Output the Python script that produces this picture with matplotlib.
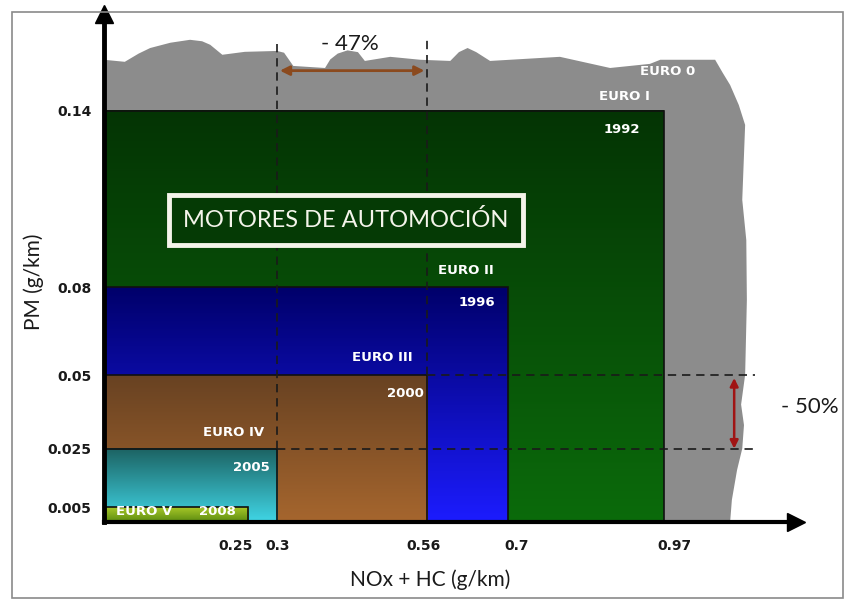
import numpy as np
import matplotlib
matplotlib.use("Agg")
import matplotlib.pyplot as plt
from matplotlib import font_manager
from matplotlib.patches import Rectangle, Polygon
from matplotlib.colors import to_rgb
from matplotlib.transforms import ScaledTranslation

plt.rcParams['font.family'] = ['Lato', 'DejaVu Sans']

installed = {f.name for f in font_manager.fontManager.ttflist}
if 'Liberation Sans Narrow' in installed:
    title_font, title_size = 'Liberation Sans Narrow', 20
else:
    title_font, title_size = 'Lato', 17

# Euro emission limits for passenger car engines (NOx + HC vs PM, g/km)
standards = ['EURO I', 'EURO II', 'EURO III', 'EURO IV', 'EURO V']
years = ['1992', '1996', '2000', '2005', '2008']
nox_hc = [0.97, 0.7, 0.56, 0.3, 0.25]
pm = [0.14, 0.08, 0.05, 0.025, 0.005]

x_ticks = [0.25, 0.3, 0.56, 0.7, 0.97]
y_ticks = [0.005, 0.025, 0.05, 0.08, 0.14]

# vertical gradients (top colour, bottom colour) for each block
gradients = [('#043404', '#0b6b0b'),
             ('#00006a', '#1c1cff'),
             ('#684222', '#a6662e'),
             ('#1c6262', '#40d6e6'),
             ('#a8c828', '#5a8a10')]

# outline of the "no limit" EURO 0 cloud behind everything
euro0_outline = [(0.0, 0.1574), (0.036, 0.1567), (0.060, 0.1595), (0.080, 0.1614),
                 (0.115, 0.1632), (0.149, 0.1642), (0.170, 0.1637), (0.184, 0.1625),
                 (0.205, 0.1591), (0.244, 0.1601), (0.300, 0.1604), (0.312, 0.1598),
                 (0.328, 0.1553), (0.383, 0.1546), (0.392, 0.1575), (0.405, 0.1595),
                 (0.422, 0.1606), (0.440, 0.1600), (0.452, 0.1570), (0.496, 0.1584),
                 (0.548, 0.1574), (0.600, 0.1570), (0.615, 0.1600), (0.630, 0.1614),
                 (0.645, 0.1600), (0.669, 0.1570), (0.790, 0.1584), (0.877, 0.1546),
                 (0.946, 0.1560), (0.964, 0.1574), (1.059, 0.1574), (1.072, 0.1530),
                 (1.085, 0.1488), (1.100, 0.1420), (1.111, 0.1352), (1.106, 0.1097),
                 (1.113, 0.0960), (1.114, 0.0756), (1.111, 0.0501), (1.104, 0.0400),
                 (1.109, 0.0330), (1.106, 0.0250), (1.097, 0.0177), (1.088, 0.0075),
                 (1.085, 0.0), (0.0, 0.0)]

fig = plt.figure(figsize=(8.45, 5.99), dpi=100)
ax = fig.add_axes([0.1231, 0.1286, 0.8195, 0.8481])
ax.set_xlim(0, 1.2)
ax.set_ylim(0, 0.173)

# thin grey frame round the whole figure
fig.patches.append(Rectangle((12 / 845, 1 / 599), 831 / 845, 586 / 599, transform=fig.transFigure,
                             fill=False, edgecolor='#8a8a8a', linewidth=1.2))

ax.add_patch(Polygon(euro0_outline, closed=True, facecolor='#8c8c8c', edgecolor='none', zorder=1))

for i, (w, h, (c_top, c_bot)) in enumerate(zip(nox_hc, pm, gradients)):
    t = np.linspace(0, 1, 256)[:, None, None]
    img = (1 - t) * np.array(to_rgb(c_bot)) + t * np.array(to_rgb(c_top))
    ax.imshow(img, extent=[0, w, 0, h], origin='lower', aspect='auto',
              interpolation='bilinear', zorder=2 + i)
    ax.add_patch(Rectangle((0, 0), w, h, fill=False, edgecolor='#101010',
                           linewidth=1.2, zorder=2 + i))

# dashed guide lines for the EURO III -> EURO IV step
dash = dict(color='#1a1a1a', linestyle=(0, (5, 3.5)), linewidth=1.2, zorder=8)
ax.plot([0.3, 0.3], [0.025, 0.163], **dash)
ax.plot([0.56, 0.56], [0.05, 0.165], **dash)
ax.plot([0.56, 1.128], [0.05, 0.05], clip_on=False, **dash)
ax.plot([0.3, 1.125], [0.025, 0.025], clip_on=False, **dash)

ax.annotate('', xy=(0.3, 0.1537), xytext=(0.56, 0.1537),
            arrowprops=dict(arrowstyle='<|-|>', color='#8b4a1e', lw=2, mutation_scale=14,
                            shrinkA=2, shrinkB=2), zorder=9)
ax.annotate('', xy=(1.092, 0.0245), xytext=(1.092, 0.0495),
            arrowprops=dict(arrowstyle='<|-|>', color='#a01414', lw=1.8, mutation_scale=12,
                            shrinkA=1, shrinkB=1), zorder=9)
ax.text(0.426, 0.1627, '- 47%', fontsize=16, ha='center', va='center', color='#1a1a1a', zorder=9)
ax.text(1.223, 0.0391, '- 50%', fontsize=16, ha='center', va='center', color='#1a1a1a',
        clip_on=False, zorder=9)

# labels of each standard and its year
lab = dict(color='white', fontweight='bold', fontsize=9.5, family='DejaVu Sans',
           ha='center', va='center', zorder=10)
ax.text(0.977, 0.1533, 'EURO 0', **lab)
name_pos = [(0.901, 0.1448), (0.627, 0.0855), (0.483, 0.0559), (0.224, 0.0303), (0.069, 0.0037)]
year_pos = [(0.898, 0.1335), (0.646, 0.0746), (0.522, 0.0436), (0.256, 0.0184), (0.196, 0.0037)]
for name, yr, (nx, ny), (yx, yy) in zip(standards, years, name_pos, year_pos):
    ax.text(nx, ny, name, **lab)
    ax.text(yx, yy, yr, **lab)

ax.text(0.419, 0.1029, 'MOTORES DE AUTOMOCIÓN', fontsize=title_size, family=title_font,
        color='#f4f4ea', ha='center', va='center', zorder=10,
        bbox=dict(boxstyle='square,pad=0.6', facecolor='#053a05', edgecolor='#f4f4ea', linewidth=3.5))

# axes drawn as black arrows
for side in ['top', 'right']:
    ax.spines[side].set_visible(False)
ax.spines['left'].set_linewidth(3.5)
ax.spines['bottom'].set_linewidth(3)
for side in ['left', 'bottom']:
    ax.spines[side].set_zorder(12)
ax.plot([0], [1], marker='^', markersize=13, color='black', transform=ax.transAxes,
        clip_on=False, zorder=12)
ax.plot([1], [0], marker='>', markersize=13, color='black', transform=ax.transAxes,
        clip_on=False, zorder=12)

ax.set_xticks(x_ticks)
ax.set_xticklabels([str(v) for v in x_ticks])
ax.set_yticks(y_ticks)
ax.set_yticklabels([str(v) for v in y_ticks])
ax.tick_params(length=0, labelsize=10, colors='#1a1a1a')
ax.tick_params(axis='x', pad=12)
ax.tick_params(axis='y', pad=9)
for lbl in ax.get_xticklabels() + ax.get_yticklabels():
    lbl.set_fontweight('bold')
    lbl.set_family('DejaVu Sans')

# nudge crowded x tick labels apart (points)
x_label_shift = [-9, 0, -3, 6.5, 8]
for tick, dx in zip(ax.xaxis.get_major_ticks(), x_label_shift):
    tick.label1.set_transform(tick.label1.get_transform()
                              + ScaledTranslation(dx / 72, 0, fig.dpi_scale_trans))

ax.set_xlabel('NOx + HC (g/km)', fontsize=15, color='#1a1a1a')
ax.set_ylabel('PM (g/km)', fontsize=15, color='#1a1a1a')
ax.xaxis.set_label_coords(0.471, -0.093)
ax.yaxis.set_label_coords(-0.086, 0.472)

fig.savefig('out.png', dpi=100)
